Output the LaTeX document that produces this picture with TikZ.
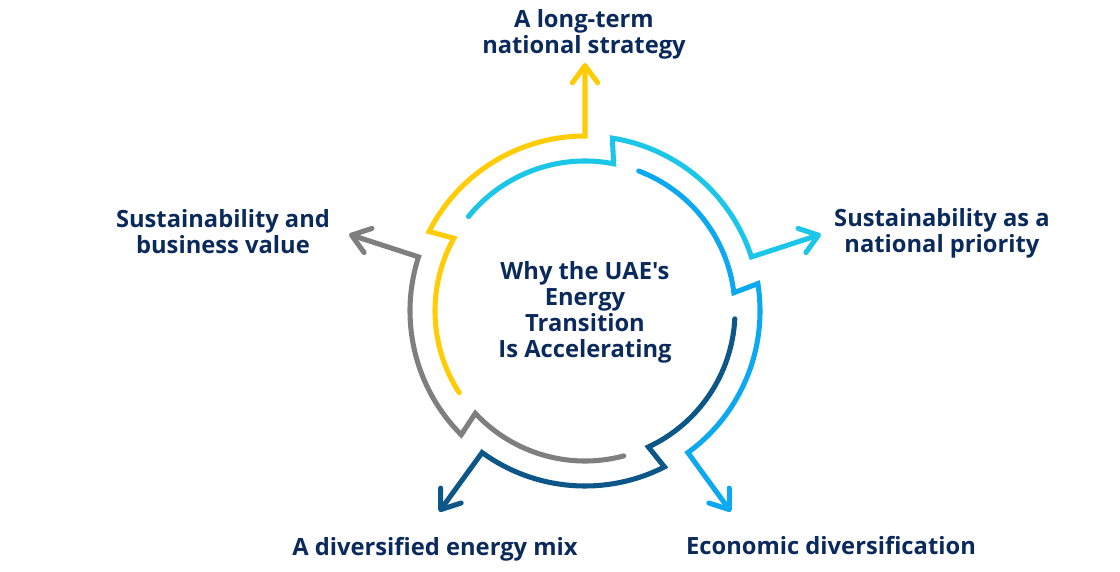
\documentclass[tikz,border=0pt]{standalone}
\usepackage{fontspec}
\setmainfont{Open Sans}[Ligatures=TeXOff]
\usepackage{tikz}
\usetikzlibrary{arrows.meta,positioning}

\definecolor{clrYellow}{HTML}{FFCC05}
\definecolor{clrCyan}{HTML}{1CC6E6}
\definecolor{clrSky}{HTML}{0CA8F0}
\definecolor{clrNavy}{HTML}{0C5787}
\definecolor{clrGray}{HTML}{7F7F7F}
\definecolor{clrText}{HTML}{0B2A5C}

\tikzset{
  flow/.style={line width=3.8pt, line cap=round,
    -{Straight Barb[length=13pt, width=19pt, round]}},
  lbl/.style={font=\bfseries\fontsize{17.8}{19.5}\selectfont, text=clrText,
    align=center, inner sep=0pt},
}

\begin{document}
\begin{tikzpicture}[x=0.75pt,y=0.75pt]
	\useasboundingbox (-585,-260) rectangle (535,311);
	\node[lbl] (core) at (0,-1) {Why the UAE's\\Energy\\Transition\\Is Accelerating};
	
	% arrow tips
	\coordinate (tipA) at (90:248);
	\coordinate (tipB) at (18:248);
	\coordinate (tipC) at (-54:248);
	\coordinate (tipD) at (-126:248);
	\coordinate (tipE) at (162:248);
	
	% start points on the inner ring
	\coordinate (stA) at (213:150);
	\coordinate (stB) at (141:150);
	\coordinate (stC) at (69:150);
	\coordinate (stD) at (-3:150);
	\coordinate (stE) at (285:150);
	
	\node[lbl] (strategy) at (-1,276.5) {A long-term\\national strategy};
	\node[lbl] (priority) at (357,78) {Sustainability as a\\national priority};
	\node[lbl] (economy) at (246,-235) {Economic diversification};
	\node[lbl] (mix) at (-150,-238) {A diversified energy mix};
	\node[lbl] (business) at (-362,79) {Sustainability and\\business value};
	
	\draw[flow, clrYellow] (stA) arc[start angle=213, end angle=151, radius=150]
		-- (153:175) arc[start angle=153, end angle=90, radius=175] -- (tipA);
	\draw[flow, clrCyan] (stB) arc[start angle=141, end angle=79, radius=150]
		-- (81:175) arc[start angle=81, end angle=18, radius=175] -- (tipB);
	\draw[flow, clrSky] (stC) arc[start angle=69, end angle=7, radius=150]
		-- (9:175) arc[start angle=9, end angle=-54, radius=175] -- (tipC);
	\draw[flow, clrNavy] (stD) arc[start angle=-3, end angle=-65, radius=150]
		-- (-63:175) arc[start angle=-63, end angle=-126, radius=175] -- (tipD);
	\draw[flow, clrGray] (stE) arc[start angle=285, end angle=223, radius=150]
		-- (225:175) arc[start angle=225, end angle=162, radius=175] -- (tipE);
\end{tikzpicture}
\end{document}
